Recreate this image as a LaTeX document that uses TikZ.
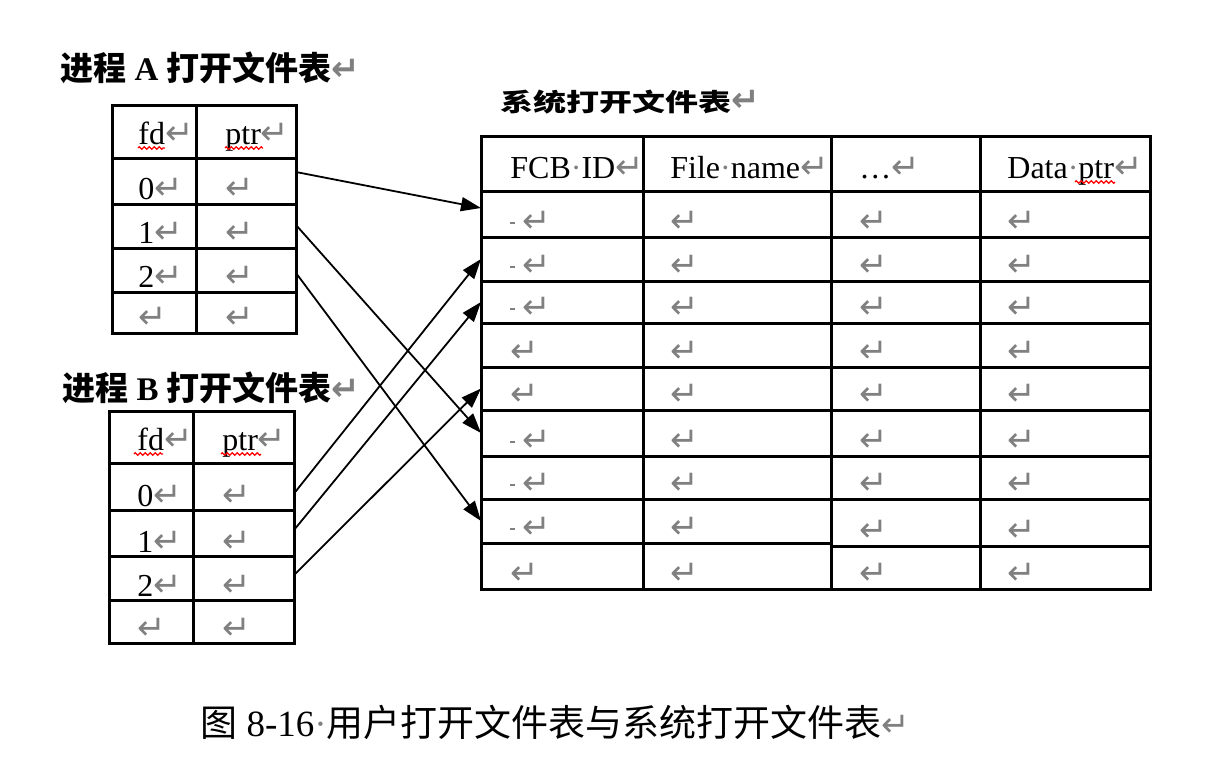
\documentclass[tikz,border=0pt]{standalone}
\usepackage{fontspec}
\usepackage{graphicx}
\setmainfont{Liberation Serif}
\newfontfamily\cjk{Noto Sans CJK SC}
\newfontfamily\retfont{DejaVu Sans}
\usetikzlibrary{arrows.meta,decorations.pathmorphing}
\definecolor{markgray}{gray}{0.5}
\newcommand{\retmark}{{\color{markgray}\retfont\fontsize{17}{17}\selectfont ↵}}
\newcommand{\spmark}{{\color{markgray}·}}
\newcommand{\dmark}{{\color{markgray}\rule[4pt]{2.5pt}{1pt}}\hspace{3.5pt}}
\tikzset{
  cell/.style={draw, line width=1.5pt, inner sep=0pt, outer sep=0pt, anchor=north west},
  txt/.style={anchor=base west, inner sep=0pt, font=\fontsize{16}{16}\selectfont},
  title/.style={anchor=west, inner sep=0pt, font=\fontsize{16.5}{16.5}\selectfont\bfseries},
  link/.style={->, line width=0.9pt},
  spell/.style={red, line width=0.6pt, decorate,
    decoration={zigzag, segment length=2.5pt, amplitude=0.6pt}}
}

\begin{document}
\begin{tikzpicture}[x=0.5pt,y=-0.5pt,>={Triangle[length=10pt,width=7pt]}]
  \useasboundingbox (0,0) rectangle (1209,773);

  % titles
  \node[title] (titleA) at (60,67.5)   {{\cjk 进程} A {\cjk 打开文件表}\retmark};
  \node[title] (titleB) at (62,387.5)  {{\cjk 进程} B {\cjk 打开文件表}\retmark};
  \node[title] (titleS) at (500,102.5) {\scalebox{1}[0.75]{\cjk 系统打开文件表}\retmark};

  % process A
  \foreach \r/\t/\h/\s/\fd/\p in {h/105/53/7/fd/ptr, 0/158/46/2.5/0/{}, 1/204/44/2.5/1/{},
      2/248/44/2.5/2/{}, 3/292/41/2.5/{}/{}} {
    \node[cell, minimum width=42pt, minimum height=\h*0.5pt] (A-fd-\r)  at (112,\t) {};
    \node[cell, minimum width=50pt, minimum height=\h*0.5pt] (A-ptr-\r) at (196,\t) {};
    \node[txt] at ([xshift=13pt,yshift=\s*1pt]A-fd-\r.south west)    {\fd\retmark};
    \node[txt] at ([xshift=14.5pt,yshift=\s*1pt]A-ptr-\r.south west) {\p\retmark};
  }

  % process B
  \foreach \r/\t/\h/\s/\fd/\p in {h/411/52/6.5/fd/ptr, 0/463/47/2/0/{}, 1/510/46/2/1/{},
      2/556/44/2/2/{}, 3/600/43/2/{}/{}} {
    \node[cell, minimum width=42pt, minimum height=\h*0.5pt]   (B-fd-\r)  at (109,\t) {};
    \node[cell, minimum width=50.5pt, minimum height=\h*0.5pt] (B-ptr-\r) at (193,\t) {};
    \node[txt] at ([xshift=14pt,yshift=\s*1pt]B-fd-\r.south west)    {\fd\retmark};
    \node[txt] at ([xshift=14.5pt,yshift=\s*1pt]B-ptr-\r.south west) {\p\retmark};
  }

  % system table
  \foreach \r/\t/\h/\tt/\hh/\s/\id/\nm/\dt/\da in {
      h/136/55/136/55/6.5/FCB\spmark ID/File\spmark name/…/Data\spmark ptr,
      1/191/46/191/46/2.5/\dmark/{}/{}/{},
      2/237/44/237/44/2.5/\dmark/{}/{}/{},
      3/281/42/281/42/2.5/\dmark/{}/{}/{},
      4/323/44/323/44/2.5/{}/{}/{}/{},
      5/367/43/367/43/2.5/{}/{}/{}/{},
      6/410/46/410/46/2.5/\dmark/{}/{}/{},
      7/456/43/456/43/2.5/\dmark/{}/{}/{},
      8/499/44/499/47/2.5/\dmark/{}/{}/{},
      9/543/46/546/43/2.5/{}/{}/{}/{}} {
    \node[cell, minimum width=81pt, minimum height=\h*0.5pt]    (S-id-\r)   at (481,\t)  {};
    \node[cell, minimum width=94pt, minimum height=\h*0.5pt]    (S-name-\r) at (643,\t)  {};
    \node[cell, minimum width=74.5pt, minimum height=\hh*0.5pt] (S-dots-\r) at (831,\tt) {};
    \node[cell, minimum width=85pt, minimum height=\hh*0.5pt]   (S-data-\r) at (980,\tt) {};
    \node[txt] at ([xshift=14.5pt,yshift=\s*1pt]S-id-\r.south west)   {\id\retmark};
    \node[txt] at ([xshift=13.5pt,yshift=\s*1pt]S-name-\r.south west) {\nm\retmark};
    \node[txt] at ([xshift=14pt,yshift=\s*1pt]S-dots-\r.south west)   {\dt\retmark};
    \node[txt] at ([xshift=13.5pt,yshift=\s*1pt]S-data-\r.south west) {\da\retmark};
  }

  % spelling marks
  \draw[spell] (138,148) -- (165,148);
  \draw[spell] (225,148) -- (263,148);
  \draw[spell] (134,454) -- (163,454);
  \draw[spell] (221,454) -- (261,454);
  \draw[spell] (1075,182) -- (1115,182);

  % pointers
  \path
    ([yshift=4.5pt]A-ptr-0.east)  edge[link] ([yshift=3pt]S-id-1.west)
    ([yshift=0.5pt]A-ptr-1.east)  edge[link] (S-id-6.west)
    ([yshift=-1.5pt]A-ptr-2.east) edge[link] (S-id-8.west)
    ([yshift=-3.5pt]B-ptr-0.east) edge[link] (S-id-2.west)
    ([yshift=1.5pt]B-ptr-1.east)  edge[link] (S-id-3.west)
    ([yshift=1.5pt]B-ptr-2.east)  edge[link] (S-id-5.west);

  \node[anchor=west, inner sep=0pt, font=\fontsize{18.5}{18.5}\selectfont] (caption) at (200,722.5)
    {{\cjk 图} 8-16\spmark{\cjk 用户打开文件表与系统打开文件表}\retmark};
\end{tikzpicture}
\end{document}
